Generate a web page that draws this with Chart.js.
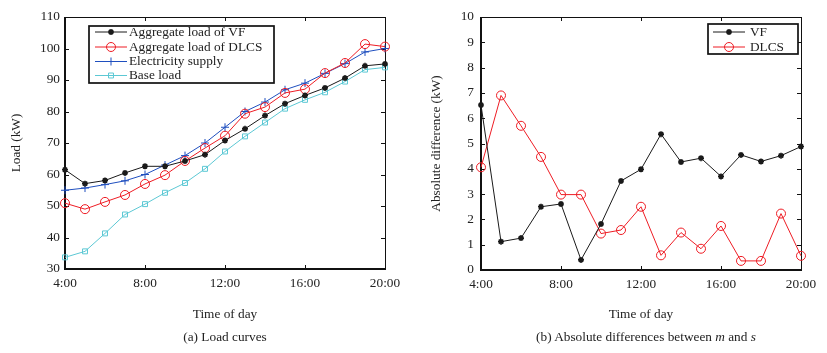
<!DOCTYPE html>
<html><head><meta charset="utf-8">
<script src="https://cdn.jsdelivr.net/npm/chart.js@4/dist/chart.umd.min.js"></script>
<style>
html,body{margin:0;padding:0;background:#fff;}
#wrap{position:relative;width:827px;height:353px;overflow:hidden;}
.pane{position:absolute;top:0;height:353px;}
.cap{position:absolute;font-family:"Liberation Serif","Times New Roman",serif;font-size:13.3px;color:#222;white-space:nowrap;transform:translateX(-50%);line-height:16px;}
</style></head><body>
<div id="wrap">
<div class="pane" style="left:0;width:413px"><canvas id="c1"></canvas></div>
<div class="pane" style="left:413px;width:414px"><canvas id="c2"></canvas></div>
<div class="cap" style="left:225px;top:329px">(a) Load curves</div>
<div class="cap" style="left:646px;top:329px">(b) Absolute differences between <i>m</i> and <i>s</i></div>
</div>
<script>
// ---- data ----
const hours = [4,5,6,7,8,9,10,11,12,13,14,15,16,17,18,19,20];
const xTickValues = [4,8,12,16,20];
const xTickLabels = ['4:00','8:00','12:00','16:00','20:00'];
const vfLoad   = [61.5,57.1,58.1,60.5,62.6,62.6,64.3,66.3,70.8,74.5,78.7,82.5,85.1,87.5,90.6,94.5,95.1];
const dlcsLoad = [50.9,49.0,51.3,53.5,57.0,59.8,64.3,68.4,72.3,79.3,81.4,85.9,87.1,92.2,95.4,101.4,100.6];
const supply   = [55.0,55.7,56.8,58.0,60.0,63.0,66.0,70.0,75.0,80.0,83.0,86.9,89.0,92.1,95.2,98.9,100.0];
const baseLoad = [33.7,35.6,41.3,47.3,50.6,54.2,57.3,61.8,67.3,72.1,76.5,80.9,83.7,86.1,89.5,93.3,94.0];
const vfDiff   = [6.52,1.12,1.26,2.50,2.61,0.40,1.82,3.52,3.98,5.37,4.27,4.42,3.70,4.55,4.29,4.52,4.88];
const dlcsDiff = [4.06,6.90,5.70,4.47,2.98,2.98,1.44,1.58,2.50,0.58,1.48,0.84,1.74,0.36,0.36,2.23,0.56];

const FONT = '"Liberation Serif","Times New Roman",serif';
const TXT = '#222';
const C_BLACK = '#1a1a1a', C_RED = '#ee1c24', C_BLUE = '#1f4fbf', C_CYAN = '#5cc8d4';

function pts(arr){ return hours.map((h,i)=>({x:h,y:arr[i]})); }

function ds(label, arr, color, style, radius){
  const star = style==='star';
  return {label, data:pts(arr), borderColor:color, backgroundColor:color,
    borderWidth:1, pointStyle:style, pointRadius:radius, pointBorderWidth:star?1.6:1,
    pointBackgroundColor:(star?color:'rgba(255,255,255,0)'),
    pointBorderColor:color, pointHoverRadius:radius, tension:0, clip:false};
}

const boxPlugin = {
  id:'box',
  beforeDatasetsDraw(chart){
    const {ctx, chartArea:a, scales:{x,y}} = chart;
    ctx.save();
    ctx.strokeStyle = '#111';
    ctx.lineWidth = 1;
    ctx.beginPath();
    ctx.moveTo(a.left, a.top+0.5); ctx.lineTo(a.right+0.5, a.top+0.5); ctx.lineTo(a.right+0.5, a.bottom);
    ctx.stroke();
    ctx.lineWidth = 2;
    ctx.beginPath();
    ctx.moveTo(a.left, a.top); ctx.lineTo(a.left, a.bottom); ctx.lineTo(a.right+1, a.bottom);
    ctx.stroke();
    ctx.lineWidth = 1;
    const L = 4;
    ctx.beginPath();
    x.ticks.forEach(t=>{
      const px = Math.round(x.getPixelForValue(t.value))+0.5;
      ctx.moveTo(px, a.bottom); ctx.lineTo(px, a.bottom-L);
      ctx.moveTo(px, a.top); ctx.lineTo(px, a.top+L);
    });
    y.ticks.forEach(t=>{
      const py = Math.round(y.getPixelForValue(t.value))+0.5;
      ctx.moveTo(a.left, py); ctx.lineTo(a.left+L, py);
      ctx.moveTo(a.right, py); ctx.lineTo(a.right-L, py);
    });
    ctx.stroke();
    ctx.restore();
  }
};

const legendPlugin = {
  id:'boxLegend',
  afterDraw(chart, args, o){
    const ctx = chart.ctx;
    ctx.save();
    ctx.fillStyle = '#fff';
    ctx.fillRect(o.x0, o.y0, o.x1-o.x0, o.y1-o.y0);
    ctx.strokeStyle = '#111';
    ctx.lineWidth = 1.7;
    ctx.strokeRect(o.x0, o.y0, o.x1-o.x0, o.y1-o.y0);
    ctx.font = '13.3px ' + FONT;
    ctx.textBaseline = 'middle';
    ctx.textAlign = 'left';
    chart.data.datasets.forEach((d,i)=>{
      const yy = o.rows[i];
      ctx.strokeStyle = d.borderColor;
      ctx.lineWidth = 1;
      ctx.beginPath(); ctx.moveTo(o.lx0, yy); ctx.lineTo(o.lx1, yy); ctx.stroke();
      ctx.fillStyle = d.pointBackgroundColor;
      ctx.strokeStyle = d.pointBorderColor;
      ctx.lineWidth = d.pointBorderWidth;
      Chart.helpers.drawPoint(ctx, {pointStyle:d.pointStyle, rotation:0, radius:d.pointRadius, borderWidth:d.pointBorderWidth}, (o.lx0+o.lx1)/2, yy);
      ctx.fillStyle = TXT;
      ctx.fillText(d.label, o.tx, yy+0.5);
    });
    ctx.restore();
  }
};

function makeChart(id, w, datasets, yMin, yMax, yStep, yTitle, geo){
  const cv = document.getElementById(id);
  cv.width = w; cv.height = 353;
  cv.style.width = w+'px'; cv.style.height = '353px';
  return new Chart(cv, {
    type:'line',
    data:{datasets},
    options:{
      responsive:false, animation:false, devicePixelRatio:1,
      layout:{padding:{left:0, top:geo.top, right:w-geo.right, bottom:0}},
      plugins:{legend:{display:false}, tooltip:{enabled:false}, boxLegend:geo.legend},
      scales:{
        x:{type:'linear', min:4, max:20,
          afterBuildTicks:s=>{ s.ticks = xTickValues.map(v=>({value:v})); },
          afterFit:s=>{ s.height = 353-geo.bottom; },
          grid:{display:false, drawTicks:false}, border:{display:false},
          ticks:{padding:7, color:TXT, font:{family:FONT,size:13.3},
            callback:(v)=>xTickLabels[xTickValues.indexOf(v)] ?? ''},
          title:{display:true, text:'Time of day', color:TXT, font:{family:FONT,size:13.3}, padding:{bottom:geo.xtPad}}
        },
        y:{min:yMin, max:yMax,
          afterFit:s=>{ s.width = geo.left; },
          grid:{display:false, drawTicks:false}, border:{display:false},
          ticks:{stepSize:yStep, padding:geo.ytickPad, color:TXT, font:{family:FONT,size:13.3}},
          title:{display:true, text:yTitle, color:TXT, font:{family:FONT,size:13.3}, padding:{top:geo.ytPad}}
        }
      }
    },
    plugins:[boxPlugin, legendPlugin]
  });
}

makeChart('c1', 413, [
  ds('Aggregate load of VF', vfLoad, C_BLACK, 'star', 3),
  ds('Aggregate load of DLCS', dlcsLoad, C_RED, 'circle', 4.5),
  ds('Electricity supply', supply, C_BLUE, 'cross', 4),
  ds('Base load', baseLoad, C_CYAN, 'rect', 3.5)
], 30, 110, 10, 'Load (kW)',
 {left:65, right:385, top:17, bottom:269, xtPad:31, ytPad:9, ytickPad:5,
  legend:{x0:89, y0:26, x1:274, y1:83, lx0:95, lx1:127, tx:129, rows:[32,47,61.5,75.5]}});

makeChart('c2', 414, [
  ds('VF', vfDiff, C_BLACK, 'star', 3),
  ds('DLCS', dlcsDiff, C_RED, 'circle', 4.5)
], 0, 10, 1, 'Absolute difference (kW)',
 {left:68, right:388, top:17, bottom:270, xtPad:31, ytPad:16, ytickPad:7,
  legend:{x0:295, y0:24, x1:385, y1:54, lx0:300, lx1:332, tx:337, rows:[32,47]}});
</script>
</body></html>
